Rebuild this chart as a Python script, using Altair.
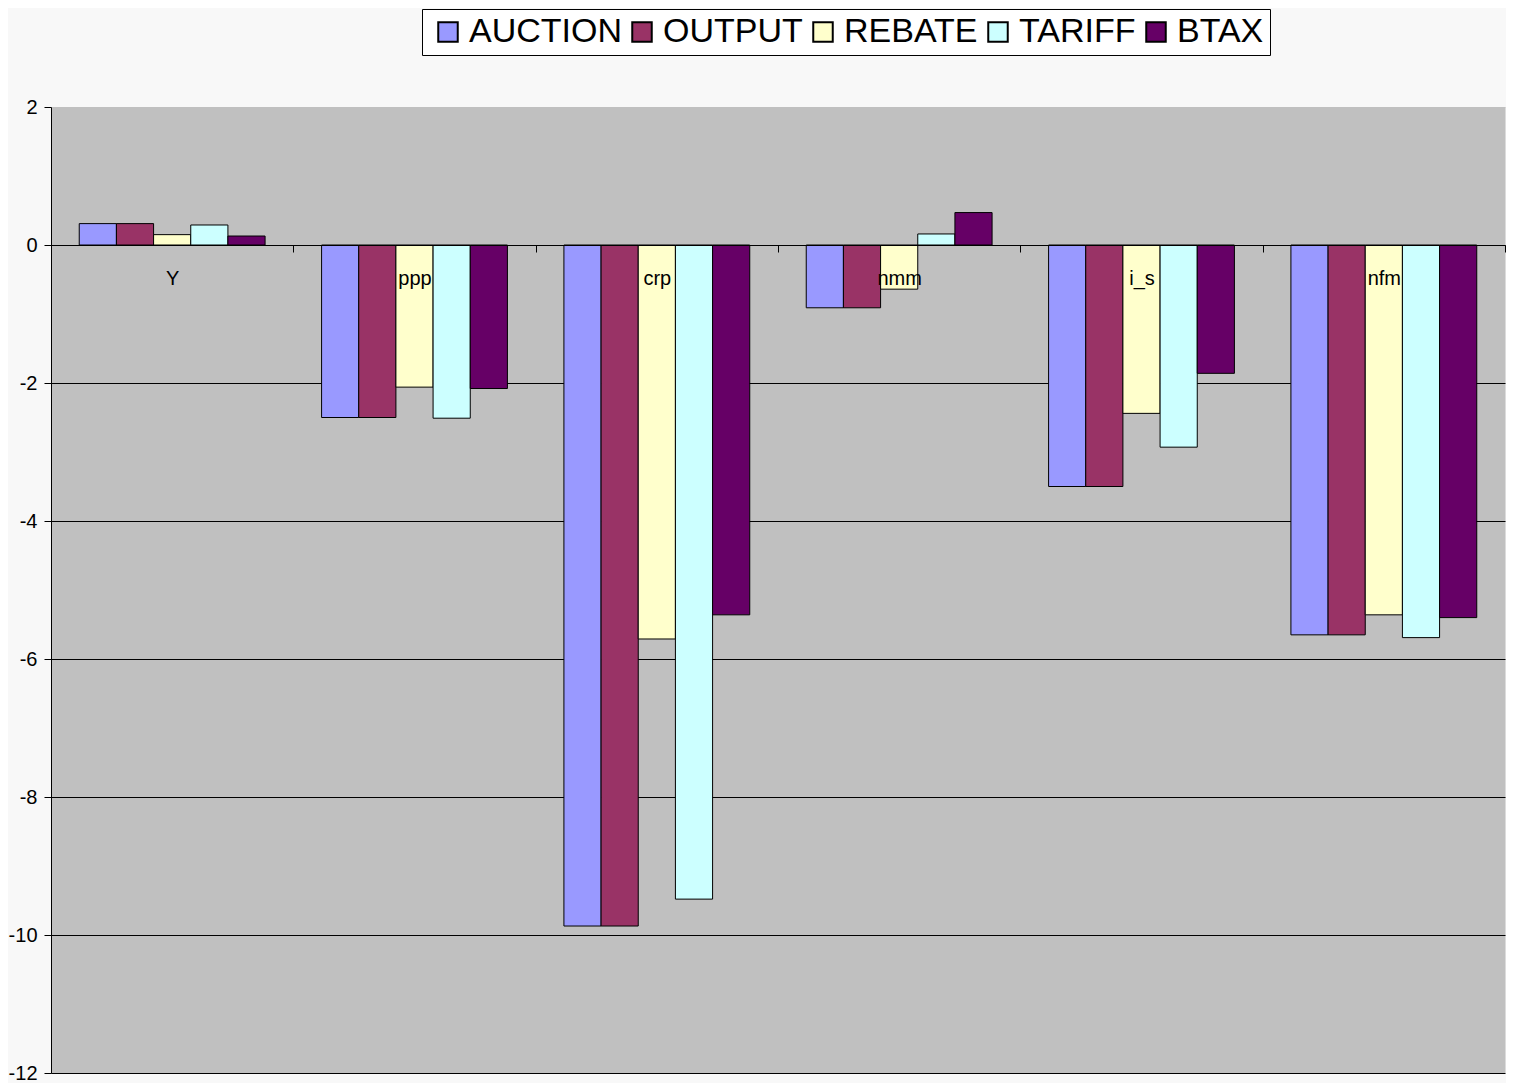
import altair as alt
import pandas as pd

categories = ["Y", "ppp", "crp", "nmm", "i_s", "nfm"]
series = ["AUCTION", "OUTPUT", "REBATE", "TARIFF", "BTAX"]
auction = [0.31, -2.50, -9.87, -0.91, -3.50, -5.65]
output = [0.31, -2.50, -9.87, -0.91, -3.50, -5.65]
rebate = [0.15, -2.06, -5.71, -0.64, -2.44, -5.36]
tariff = [0.29, -2.51, -9.48, 0.16, -2.93, -5.69]
btax = [0.13, -2.08, -5.36, 0.47, -1.86, -5.40]
colors = ["#9999ff", "#993366", "#ffffcc", "#ccffff", "#660066"]
y_ticks = [2, 0, -2, -4, -6, -8, -10, -12]

values_by_series = [auction, output, rebate, tariff, btax]
rows = []
for s, vals in zip(series, values_by_series):
    for c, v in zip(categories, vals):
        rows.append({"category": c, "series": s, "value": v})
df = pd.DataFrame(rows)

W = 1454
H = 966
y_min, y_max = -12, 2
zero_from_bottom = H * (0 - y_min) / (y_max - y_min)

FONT = "Liberation Sans"

bars = alt.Chart(df).mark_bar(stroke="black", strokeWidth=1).encode(
    x=alt.X(
        "category:N",
        sort=categories,
        scale=alt.Scale(paddingInner=0, paddingOuter=0),
        axis=alt.Axis(
            orient="bottom",
            offset=-zero_from_bottom,
            title=None,
            labelAngle=0,
            tickBand="extent",
            domainColor="black",
            domainWidth=1,
            tickColor="black",
            tickSize=7,
            labelPadding=16,
            labelFont=FONT,
            labelFontSize=20,
            labelColor="black",
            zindex=1,
        ),
    ),
    xOffset=alt.XOffset(
        "series:N",
        sort=series,
        scale=alt.Scale(paddingOuter=0.76, paddingInner=0),
    ),
    y=alt.Y(
        "value:Q",
        scale=alt.Scale(domain=[y_min, y_max], nice=False, zero=False),
        axis=alt.Axis(
            values=y_ticks,
            title=None,
            grid=True,
            gridColor={"condition": {"test": "datum.value === 2", "value": "#c0c0c0"}, "value": "black"},
            gridWidth=1,
            domainColor="black",
            tickColor="black",
            tickSize=7,
            labelPadding=7,
            labelExpr="'' + datum.value",
            labelFont=FONT,
            labelFontSize=20,
            labelColor="black",
        ),
    ),
    color=alt.Color(
        "series:N",
        sort=series,
        scale=alt.Scale(domain=series, range=colors),
        legend=alt.Legend(
            orient="none",
            legendX=371,
            legendY=-98,
            direction="horizontal",
            columns=5,
            title=None,
            symbolType="square",
            symbolSize=380,
            symbolStrokeColor="black",
            symbolStrokeWidth=2,
            symbolOpacity=1,
            labelFont=FONT,
            labelFontSize=34,
            labelColor="black",
            labelOffset=4,
            columnPadding=0,
            padding=6,
            symbolOffset=3,
            strokeColor="black",
            fillColor="#ffffff",
        ),
    ),
)

chart = bars.properties(
    width=W,
    height=H,
    background="#f8f8f8",
    padding={"left": 0, "top": 0, "right": 0, "bottom": 0},
).configure_view(
    fill="#c0c0c0",
    stroke="transparent",
)

chart.save("out.html", embed_options={"renderer": "svg", "actions": False})
